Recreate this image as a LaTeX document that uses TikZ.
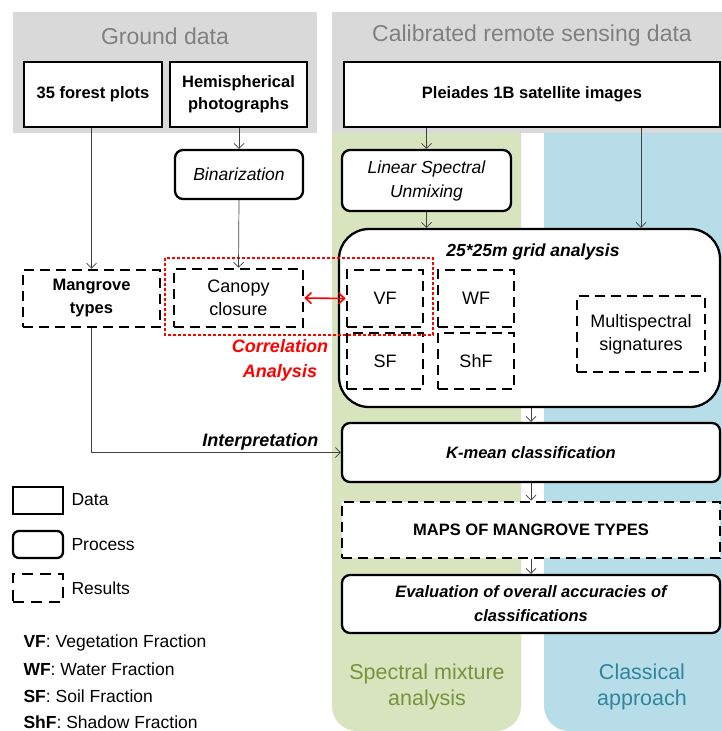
\documentclass[tikz,border=0pt]{standalone}
\usepackage{fontspec}
\setmainfont{Liberation Sans}
\usetikzlibrary{arrows.meta}
\definecolor{panelgray}{HTML}{D9D9D9}
\definecolor{headgray}{HTML}{808080}
\definecolor{smagreen}{HTML}{D7E4BD}
\definecolor{clablue}{HTML}{B7DEE8}
\definecolor{smatext}{HTML}{77933C}
\definecolor{clatext}{HTML}{31859C}
\definecolor{corred}{HTML}{FF0000}
\definecolor{linegray}{HTML}{404040}
\tikzset{
  box/.style={draw=black, line width=2.3pt, fill=white, inner sep=0pt, align=center},
  databox/.style={box, font=\fontsize{16.5}{22}\selectfont\bfseries},
  procbox/.style={box, rounded corners=8pt, font=\fontsize{17.5}{24}\selectfont\itshape},
  procbold/.style={box, rounded corners=8pt, font=\fontsize{16.5}{24}\selectfont\bfseries\itshape},
  resbox/.style={box, dash pattern=on 10pt off 6pt, line width=2.6pt, font=\fontsize{18}{23}\selectfont},
  resbold/.style={resbox, font=\fontsize{16.5}{23}\selectfont\bfseries},
  arr/.style={draw=linegray, line width=0.7pt, -{Straight Barb[length=5pt,width=10pt]}},
  redarr/.style={draw=corred, line width=1.6pt, {Straight Barb[length=6pt,width=11pt]}-{Straight Barb[length=6pt,width=11pt]}},
  header/.style={font=\fontsize{23}{28}\selectfont, text=headgray},
  collabel/.style={font=\fontsize{21.5}{26}\selectfont, align=center},
  legtext/.style={anchor=west, font=\fontsize{17.5}{20}\selectfont},
  wh/.style 2 args={minimum width=#1pt, minimum height=#2pt},
}
\begin{document}
\begin{tikzpicture}[x=1pt,y=-1pt]
\useasboundingbox (0,0) rectangle (721,731);
\fill[white] (0,0) rectangle (721,731);
% column backgrounds
\fill[smagreen, rounded corners=25pt] (332,100) rectangle (521,731);
\fill[clablue, rounded corners=25pt] (544,100) rectangle (770,731);
% top panels
\fill[panelgray] (13,12) rectangle (317,133);
\fill[panelgray] (332,12) rectangle (730,133);
\node[header] (gdtitle) at (165,36) {Ground data};
\node[header] (rstitle) at (532,36) {Calibrated remote sensing data};

% data boxes
\node[databox, wh={138}{65}] (plots) at (93,94.5) {35 forest plots};
\node[databox, wh={137}{65}] (hemi) at (238.5,94.5) {Hemispherical\\photographs};
\node[databox, wh={376}{65}] (pleiades) at (532,94.5) {Pleiades 1B satellite images};

% processes
\node[procbox, wh={128}{49}] (binar) at (239,174.5) {Binarization};
\node[procbox, wh={169}{61}] (lsu) at (426.5,180.5) {Linear Spectral\\Unmixing};
\node[box, rounded corners=30pt, wh={381}{178}] (grid) at (529.5,318) {};
\node[font=\fontsize{17.5}{20}\selectfont\bfseries\itshape] (gridtitle) at (533,252) {25*25m grid analysis};

% results
\node[resbold, wh={137}{57}] (mangrove) at (91.5,298.5) {Mangrove\\types};
\node[resbox, wh={129}{58}] (canopy) at (238.5,298) {Canopy\\closure};
\node[resbox, wh={76}{57}] (vf) at (385,298.5) {VF};
\node[resbox, wh={76}{56}] (sf) at (385,361) {SF};
\node[resbox, wh={76}{57}] (wf) at (476,298.5) {WF};
\node[resbox, wh={76}{56}] (shf) at (476,361) {ShF};
\node[resbox, wh={128}{76}] (multi) at (641,334) {Multispectral\\signatures};

\node[procbold, wh={378}{59}] (kmean) at (531,452.5) {K-mean classification};
\node[resbold, wh={378}{56}] (maps) at (531,530) {MAPS OF MANGROVE TYPES};
\node[procbold, wh={378}{58}] (eval) at (531,604) {Evaluation of overall accuracies of\\classifications};

% correlation
\draw[corred, line width=2.6pt, dash pattern=on 2.6pt off 2.4pt] (165,258) rectangle (433,335);
\draw[redarr] (canopy.east) -- (vf.west);
\node[font=\fontsize{18}{25}\selectfont\bfseries\itshape, text=corred, align=center] (corr) at (280,360.5) {Correlation\\Analysis};

% connectors
\draw[arr] (mangrove.north |- plots.south) -- (mangrove.north);
\draw[arr] (binar.north |- hemi.south) -- (binar.north);
\draw[arr] (binar.south) -- (canopy.north);
\draw[arr] (lsu.north |- pleiades.south) -- (lsu.north);
\draw[arr] (multi.north |- pleiades.south) -- (multi.north |- grid.north);
\draw[arr] (lsu.south) -- (lsu.south |- grid.north);
\draw[arr] (kmean.north |- grid.south) -- (kmean.north);
\draw[arr] (kmean.south) -- (maps.north);
\draw[arr] (maps.south) -- (eval.north);
\draw[arr] (mangrove.south) |- (kmean.west);
\node[anchor=east, font=\fontsize{18}{20}\selectfont\bfseries\itshape] (interp) at (322,441.5) {Interpretation};

% column labels
\node[collabel, text=smatext] (smalabel) at (427,687) {Spectral mixture\\analysis};
\node[collabel, text=clatext] (clalabel) at (642,687) {Classical\\approach};

% legend
\node[box, wh={50}{27}] (legdata) at (38,500.5) {};
\node[box, rounded corners=6pt, wh={50}{27}] (legproc) at (38,544.5) {};
\node[box, dash pattern=on 11pt off 7pt, line width=2.6pt, wh={50}{28}] (legres) at (38,588) {};
\node[legtext] (ldata) at (68,500) {Data};
\node[legtext] (lproc) at (68,544.5) {Process};
\node[legtext] (lres) at (68,588) {Results};

\node[legtext] (abvf) at (20,643) {\textbf{VF}: Vegetation Fraction};
\node[legtext] (abwf) at (20,669) {\textbf{WF}: Water Fraction};
\node[legtext] (absf) at (20,696) {\textbf{SF}: Soil Fraction};
\node[legtext] (abshf) at (20,722) {\textbf{ShF}: Shadow Fraction};
\end{tikzpicture}
\end{document}
